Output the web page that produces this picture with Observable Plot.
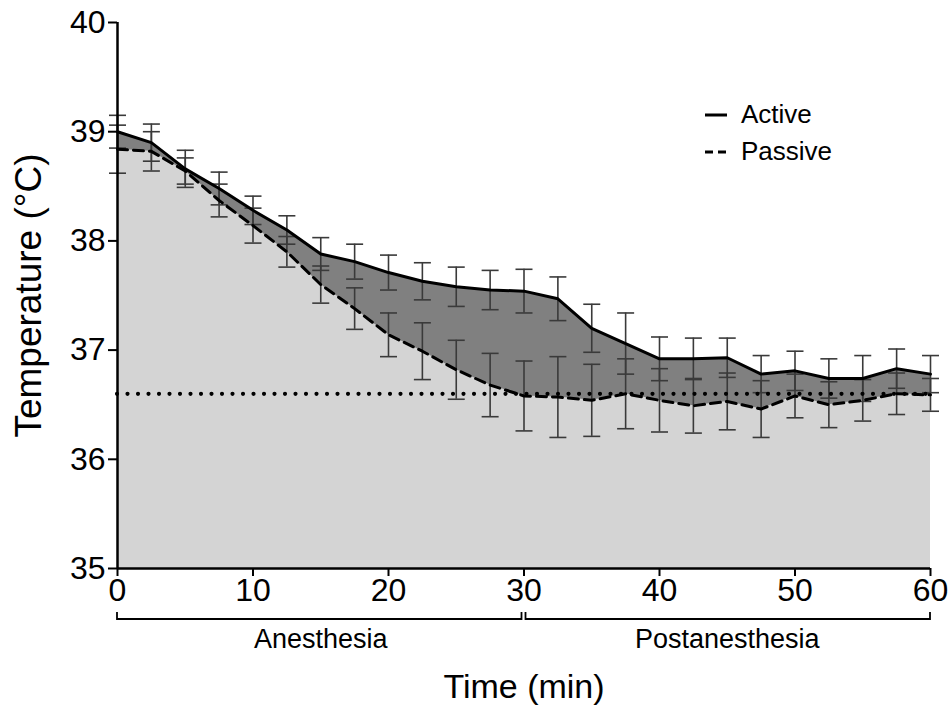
<!DOCTYPE html>
<html>
<head>
<meta charset="utf-8">
<script src="https://cdn.jsdelivr.net/npm/d3@7"></script>
<script src="https://cdn.jsdelivr.net/npm/@observablehq/plot@0.6"></script>
<style>
  html, body { margin: 0; padding: 0; background: #fff; }
  #wrap { position: relative; width: 950px; height: 716px; font-family: "Liberation Sans", Arial, Helvetica, sans-serif; }
  #legend { position: absolute; left: 704px; top: 96px; font-size: 26px; color: #000; line-height: 37px; }
  #legend div { display: flex; align-items: center; }
  #legend svg { margin-right: 13px; }
</style>
</head>
<body>
<div id="wrap">
  <div id="chart"></div>
  <div id="legend">
    <div><svg width="24" height="10"><line x1="1" y1="5" x2="23" y2="5" stroke="#000" stroke-width="3"/></svg>Active</div>
    <div><svg width="24" height="10"><line x1="1" y1="5" x2="23" y2="5" stroke="#000" stroke-width="3" stroke-dasharray="8,5"/></svg>Passive</div>
  </div>
</div>
<script>
const times = [0,2.5,5,7.5,10,12.5,15,17.5,20,22.5,25,27.5,30,32.5,35,37.5,40,42.5,45,47.5,50,52.5,55,57.5,60];
const activeMean = [39.00,38.90,38.66,38.48,38.28,38.10,37.88,37.81,37.71,37.63,37.58,37.55,37.54,37.47,37.20,37.06,36.92,36.92,36.93,36.78,36.81,36.74,36.74,36.83,36.78];
const activeSD   = [0.15,0.17,0.17,0.15,0.13,0.13,0.15,0.16,0.16,0.17,0.18,0.18,0.20,0.20,0.22,0.28,0.20,0.19,0.18,0.17,0.18,0.18,0.21,0.18,0.17];
const passiveMean = [38.84,38.82,38.64,38.37,38.14,37.90,37.60,37.38,37.14,36.99,36.82,36.68,36.58,36.57,36.54,36.60,36.54,36.49,36.53,36.46,36.58,36.50,36.54,36.60,36.59];
const passiveSD   = [0.22,0.18,0.12,0.15,0.16,0.14,0.17,0.19,0.20,0.26,0.27,0.29,0.32,0.37,0.33,0.32,0.29,0.25,0.26,0.26,0.20,0.21,0.19,0.19,0.15];
const reference = 36.6;
const yTicks = [35,36,37,38,39,40];
const xTicks = [0,10,20,30,40,50,60];
const phaseLabels = ["Anesthesia","Postanesthesia"];
const phaseStart = [0,30];
const phaseEnd = [30,60];

const rows = times.map((t,i) => ({t, a: activeMean[i], as: activeSD[i], p: passiveMean[i], ps: passiveSD[i]}));
const bars = rows.flatMap(d => [
  {t: d.t, lo: d.a - d.as, hi: d.a + d.as},
  {t: d.t, lo: d.p - d.ps, hi: d.p + d.ps}
]);
const phases = phaseLabels.map((label,i) => ({label, start: phaseStart[i], end: phaseEnd[i]}));

const cap = {draw(context, size) { const r = Math.sqrt(size / Math.PI); context.moveTo(-r, 0); context.lineTo(r, 0); }};
const font = '"Liberation Sans", Arial, Helvetica, sans-serif';

const chart = Plot.plot({
  width: 950,
  height: 716,
  marginLeft: 117,
  marginRight: 20,
  marginTop: 22,
  marginBottom: 148,
  style: {fontFamily: font, background: "#fff", color: "#000"},
  x: {domain: [0, 60]},
  y: {domain: [35, 40]},
  marks: [
    Plot.areaY(rows, {x: "t", y1: 35, y2: "a", fill: "#808080"}),
    Plot.areaY(rows, {x: "t", y1: 35, y2: "p", fill: "#d4d4d4"}),
    Plot.ruleX(bars, {x: "t", y1: "lo", y2: "hi", stroke: "#3a3a3a", strokeWidth: 1.6}),
    Plot.dot(bars, {x: "t", y: "lo", r: 8.5, symbol: cap, stroke: "#3a3a3a", strokeWidth: 1.6, fill: "none"}),
    Plot.dot(bars, {x: "t", y: "hi", r: 8.5, symbol: cap, stroke: "#3a3a3a", strokeWidth: 1.6, fill: "none"}),
    Plot.ruleY([reference], {stroke: "#000", strokeWidth: 4.2, strokeDasharray: "0,10.5", strokeLinecap: "round"}),
    Plot.line(rows, {x: "t", y: "p", stroke: "#000", strokeWidth: 3, strokeDasharray: "10,6"}),
    Plot.line(rows, {x: "t", y: "a", stroke: "#000", strokeWidth: 3}),
    Plot.ruleX([0], {stroke: "#000", strokeWidth: 2.5}),
    Plot.ruleY([35], {stroke: "#000", strokeWidth: 2.5}),
    Plot.axisY({ticks: yTicks, tickSize: 9, tickPadding: 3, tickFormat: d => d, fontSize: 32, strokeWidth: 2, label: null}),
    Plot.axisX({ticks: xTicks, tickSize: 8, tickPadding: 2, tickFormat: d => d, fontSize: 32, strokeWidth: 2, label: null}),
    Plot.text(["Temperature (°C)"], {frameAnchor: "left", textAnchor: "middle", dx: -88, rotate: -90, fontSize: 37, fill: "#000"}),
    Plot.text(["Time (min)"], {frameAnchor: "bottom", dy: 129, fontSize: 34, fill: "#000"}),
    (index, scales, values, dims) => {
      const g = d3.create("svg:g").attr("fill", "none").attr("stroke", "#000").attr("stroke-width", 1.8);
      const y0 = dims.height - dims.marginBottom + 51;
      for (const p of phases) {
        const x1 = scales.x(p.start) + (p.start > 0 ? 2 : 0);
        const x2 = scales.x(p.end) - (p.end < 60 ? 2 : 0);
        g.append("path").attr("d", `M${x1},${y0 - 7}V${y0}H${x2}V${y0 - 7}`);
      }
      return g.node();
    },
    Plot.text(phases, {x: d => (d.start + d.end) / 2, text: "label", frameAnchor: "bottom", dy: 79, fontSize: 27, fill: "#000"})
  ]
});
document.getElementById("chart").appendChild(chart);
</script>
</body>
</html>
